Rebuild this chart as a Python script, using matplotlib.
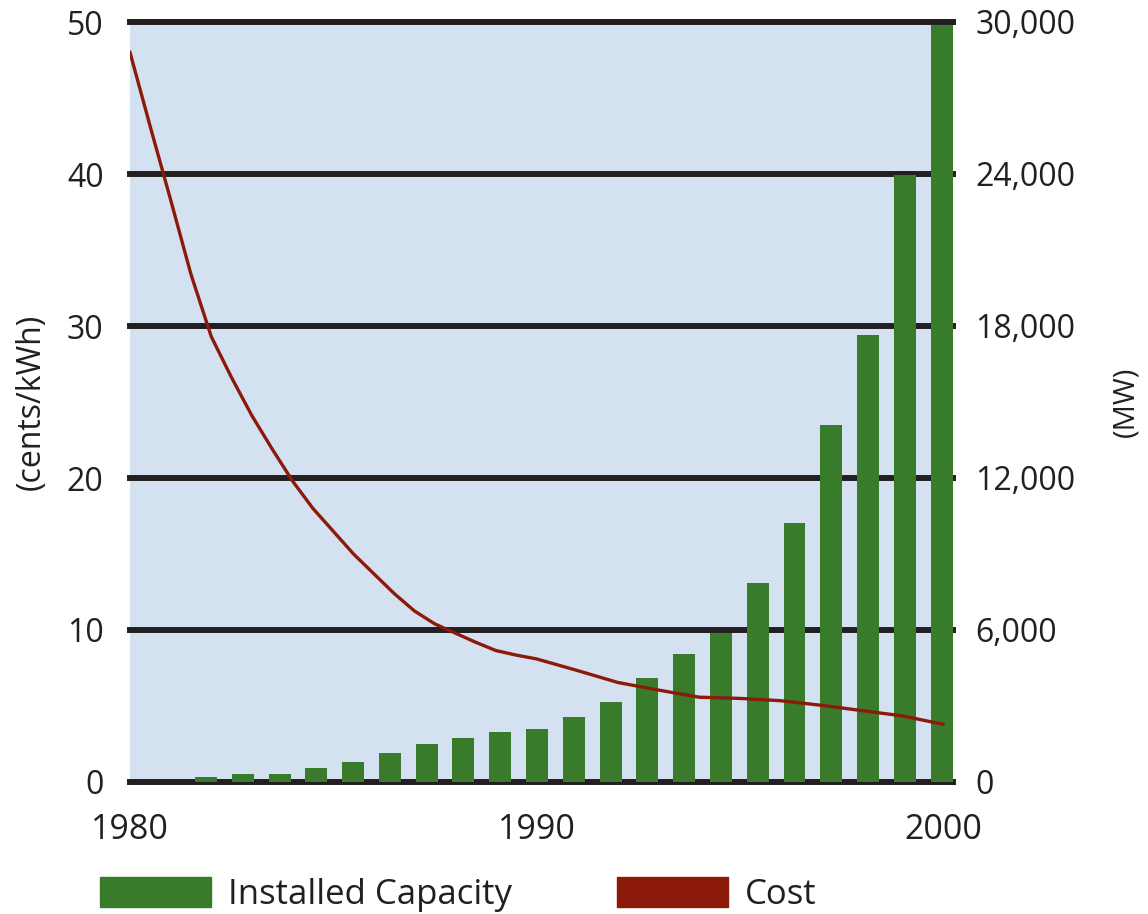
import numpy as np
import matplotlib
matplotlib.use("Agg")
import matplotlib.pyplot as plt
from matplotlib.patches import Patch
from matplotlib.ticker import FuncFormatter

plt.rcParams['font.family'] = ['Open Sans', 'DejaVu Sans']

# === DATA ===
YEARS = list(range(1980, 2001))
CAPACITY_MW = [200, 316, 316, 553, 790, 1145, 1500, 1737, 1974, 2092, 2566,
               3158, 4105, 5052, 5900, 7855, 10220, 14090, 17640, 23950, 29900]
# cost curve, read every half year while it falls steeply
COST_YEARS = [1980, 1980.5, 1981, 1981.5, 1982, 1982.5, 1983, 1983.5, 1984,
              1984.5, 1985, 1985.5, 1986, 1986.5, 1987, 1987.5, 1988, 1988.5,
              1989, 1989.5, 1990, 1991, 1992, 1993, 1994, 1995, 1996, 1997,
              1998, 1999, 2000]
COST_CENTS = [48.0, 43.1, 38.3, 33.4, 29.3, 26.6, 24.1, 21.9, 19.8,
              18.0, 16.5, 15.0, 13.7, 12.4, 11.25, 10.4, 9.8, 9.2,
              8.65, 8.35, 8.1, 7.34, 6.55, 6.05, 5.58, 5.5, 5.35, 5.05,
              4.7, 4.35, 3.8]
X_TICKS = [1980, 1990, 2000]
COST_TICKS = [0, 10, 20, 30, 40, 50]
MW_TICKS = [0, 6000, 12000, 18000, 24000, 30000]

# === STYLE ===
GREEN = "#377B2B"
RED = "#8B1A0A"
BG = "#D4E1F1"
INK = "#231F20"
W, H = 1148, 914

# bars sit in slightly narrower slots than the year scale
BAR_START = 1981.87
BAR_STEP = 0.905
BAR_WIDTH = 0.54

fig = plt.figure(figsize=(W / 100, H / 100), dpi=100)
ax = fig.add_axes([130 / W, 1 - 782 / H, (953 - 130) / W, (782 - 22) / H])
ax.set_facecolor(BG)

bar_x = BAR_START + (np.array(YEARS) - YEARS[0]) * BAR_STEP
ax.bar(bar_x, CAPACITY_MW, width=BAR_WIDTH, color=GREEN, zorder=2)
for v in MW_TICKS:
    ax.axhline(v, color=INK, lw=4.3, zorder=1, clip_on=False)

ax.set_xlim(1980, 2000.25)
ax.set_ylim(0, 30000)

ax_cost = ax.twinx()
ax_cost.plot(COST_YEARS, COST_CENTS, color=RED, lw=2.4, zorder=3,
             solid_joinstyle='round')
ax_cost.set_ylim(0, 50)
ax_cost.set_zorder(ax.get_zorder() + 1)
ax_cost.patch.set_visible(False)

ax.yaxis.tick_right()
ax.yaxis.set_label_position('right')
ax_cost.yaxis.tick_left()
ax_cost.yaxis.set_label_position('left')

for a in (ax, ax_cost):
    for s in a.spines.values():
        s.set_visible(False)

ax.set_xticks(X_TICKS)
ax.set_yticks(MW_TICKS)
ax.yaxis.set_major_formatter(FuncFormatter(lambda v, p: f"{int(v):,}"))
ax_cost.set_yticks(COST_TICKS)

ax.tick_params(axis='x', length=0, pad=22, labelsize=24.5, labelcolor=INK)
ax.tick_params(axis='y', length=0, pad=16, labelsize=23, labelcolor=INK)
ax_cost.tick_params(axis='y', length=0, pad=19, labelsize=23, labelcolor=INK)

ax_cost.set_ylabel('(cents/kWh)', fontsize=23, color=INK, labelpad=14)
ax.set_ylabel('(MW)', fontsize=21, color=INK, labelpad=26)

fs = 25
fs_px = fs * 100 / 72
handles = [Patch(color=GREEN, label='Installed Capacity'),
           Patch(color=RED, label='Cost')]
fig.legend(handles=handles, loc='lower left', bbox_to_anchor=(100 / W, 2 / H),
           ncol=2, frameon=False, fontsize=fs, handlelength=111 / fs_px,
           handleheight=32 / fs_px, handletextpad=17 / fs_px,
           columnspacing=105 / fs_px, borderpad=0, borderaxespad=0,
           labelcolor=INK)

fig.savefig("out.png", dpi=100)
